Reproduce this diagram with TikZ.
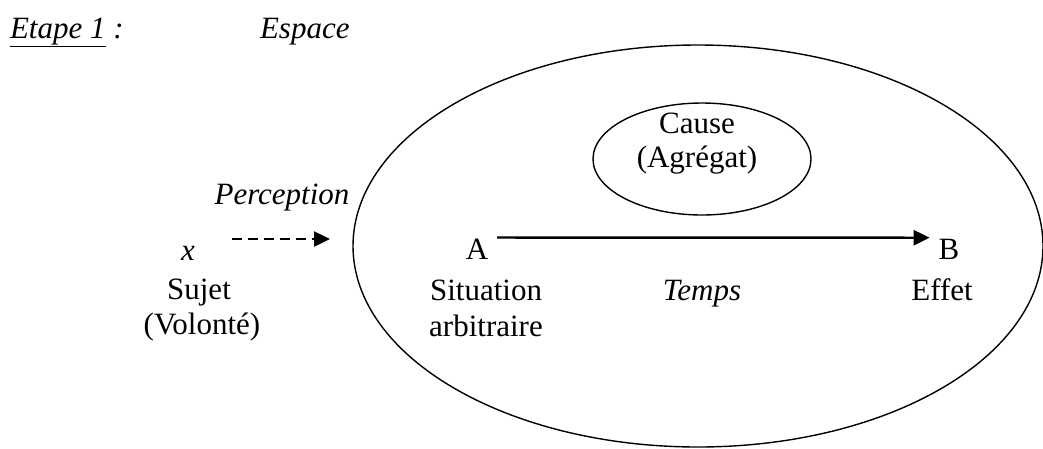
\documentclass[tikz,border=0pt]{standalone}
\usepackage{fontspec}
\setmainfont{Liberation Serif}
\usetikzlibrary{arrows.meta,shapes.geometric}
\begin{document}
\begin{tikzpicture}[x=1pt,y=-1pt,
  lbl/.style={inner sep=0pt, outer sep=0pt, anchor=base, font=\fontsize{31}{37}\selectfont},
  lbll/.style={lbl, anchor=base west},
  oval/.style={ellipse, draw, line width=1.4pt, inner sep=0pt, outer sep=0pt},
  arr/.style={line width=2.4pt, -{Triangle[length=16pt,width=15pt]}},
  dasharr/.style={arr, dash pattern=on 10pt off 6pt}]
\useasboundingbox (0,0) rectangle (1043,448);
% ellipses
\node[oval, minimum width=690pt, minimum height=402pt] (espaceE) at (698,246) {};
\node[oval, minimum width=218pt, minimum height=112pt] (causeE) at (702,159) {};
% labels
\node[lbll] (etape) at (10,38) {\textit{\underline{Etape 1}} \textit{:}};
\node[lbll] (espace) at (260,38) {\textit{Espace}};
\node[lbl] (perception) at (282,204) {\textit{Perception}};
\node[lbl] (x) at (188,260) {\textit{x}};
\node[lbl] (sujet) at (199,299) {Sujet};
\node[lbl] (volonte) at (202,334) {(Volonté)};
\node[lbl] (A) at (477,259) {A};
\node[lbl] (situation) at (486,300) {Situation};
\node[lbl] (arbitraire) at (486,336) {arbitraire};
\node[lbl] (temps) at (702,300) {\textit{Temps}};
\node[lbl] (B) at (949,259) {B};
\node[lbl] (effet) at (942,300) {Effet};
\node[lbl] (cause) at (697,133) {Cause};
\node[lbl] (agregat) at (697,167) {(Agrégat)};
% connectors
\coordinate (pstart) at (232,239);
\coordinate (pend) at (330,239);
\draw[dasharr] (pstart) -- (pend);
\draw[arr] ([shift={(9pt,1pt)}]A.north east) -- ([shift={(-9pt,1pt)}]B.north west);
\end{tikzpicture}
\end{document}
